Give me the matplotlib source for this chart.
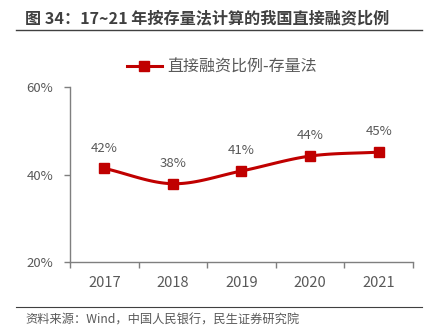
import numpy as np
import matplotlib
matplotlib.use("Agg")
import matplotlib.pyplot as plt
from matplotlib.lines import Line2D

plt.rcParams['font.family'] = ['Noto Sans CJK SC', 'DejaVu Sans']

# data
years = ["2017", "2018", "2019", "2020", "2021"]
ratio = [41.4, 37.9, 40.8, 44.2, 45.1]
ratio_labels = ["42%", "38%", "41%", "44%", "45%"]
y_ticks = [20, 40, 60]

title = "图 34：17~21 年按存量法计算的我国直接融资比例"
series_name = "直接融资比例-存量法"
source = "资料来源：Wind，中国人民银行，民生证券研究院"

red = "#C00000"
grey_txt = "#595959"
grey_ax = "#7F7F7F"


def smooth(xs, ys, n=30):
    # catmull-rom style curve, like excel's smoothed line
    xs = np.asarray(xs, float)
    ys = np.asarray(ys, float)
    px = np.concatenate(([2 * xs[0] - xs[1]], xs, [2 * xs[-1] - xs[-2]]))
    py = np.concatenate(([2 * ys[0] - ys[1]], ys, [2 * ys[-1] - ys[-2]]))
    ox, oy = [], []
    for i in range(1, len(px) - 2):
        t = np.linspace(0, 1, n)
        for p, out in ((px, ox), (py, oy)):
            p0, p1, p2, p3 = p[i - 1], p[i], p[i + 1], p[i + 2]
            out.extend(0.5 * ((2 * p1) + (-p0 + p2) * t
                              + (2 * p0 - 5 * p1 + 4 * p2 - p3) * t ** 2
                              + (-p0 + 3 * p1 - 3 * p2 + p3) * t ** 3))
    return ox, oy


fig = plt.figure(figsize=(4.35, 3.35), dpi=100)
ax = fig.add_axes([70 / 435, 1 - 262.3 / 335, (413 - 70) / 435, (262.3 - 86.7) / 335])

x = np.arange(len(years))
sx, sy = smooth(x, ratio)
ax.plot(sx, sy, color=red, lw=2.2, solid_capstyle='round', zorder=2)
ax.plot(x, ratio, ls='none', marker='s', ms=6.5, color=red, zorder=3)
for xi, v, lab in zip(x, ratio, ratio_labels):
    ax.annotate(lab, (xi, v), xytext=(0, 14.5), textcoords='offset points',
                ha='center', va='center', fontsize=9.5, color=grey_txt)

ax.set_xlim(-0.5, len(years) - 0.5)
ax.set_ylim(20, 60)
ax.set_yticks(y_ticks)
ax.set_yticklabels([f"{v}%" for v in y_ticks])
ax.set_xticks(np.arange(len(years) + 1) - 0.5)
ax.set_xticklabels([])
ax.set_xticks(x, minor=True)
ax.set_xticklabels(years, minor=True)
ax.tick_params(axis='x', which='major', direction='out', length=4, color=grey_ax, width=1)
ax.tick_params(axis='x', which='minor', length=0, pad=10, labelsize=10.5, labelcolor=grey_txt)
ax.tick_params(axis='y', direction='out', length=4, color=grey_ax, width=1,
               labelsize=9.5, labelcolor=grey_txt, pad=8)
for s in ('top', 'right'):
    ax.spines[s].set_visible(False)
for s in ('left', 'bottom'):
    ax.spines[s].set_color(grey_ax)
    ax.spines[s].set_linewidth(1)

handle = Line2D([], [], color=red, lw=2.2, marker='s', ms=6.5)
fig.legend([handle], [series_name], loc='center', bbox_to_anchor=(0.51, 1 - 67 / 335),
           frameon=False, fontsize=11.5, labelcolor=grey_txt, handlelength=2.2,
           handletextpad=0.35)

fig.text(25 / 435, 1 - 18 / 335, title, fontsize=11.6, fontweight='bold',
         color="#404040", ha='left', va='center')
fig.add_artist(Line2D([16 / 435, 422 / 435], [1 - 29.5 / 335] * 2, color="#404040", lw=1))
fig.add_artist(Line2D([16 / 435, 422 / 435], [1 - 307 / 335] * 2, color="#404040", lw=0.8))
fig.text(25 / 435, 1 - 320 / 335, source, fontsize=8.8, color=grey_txt, ha='left', va='center')

fig.savefig("out.png", dpi=100)
